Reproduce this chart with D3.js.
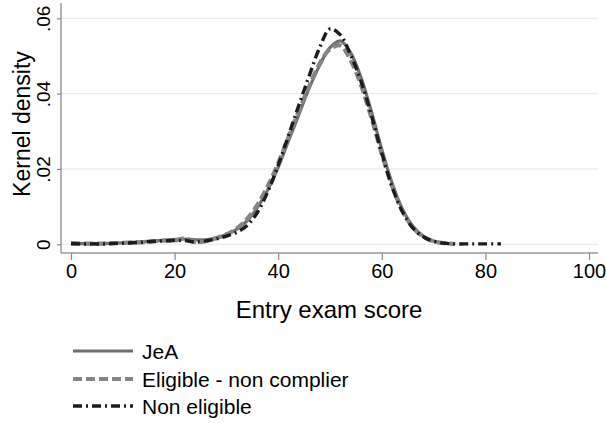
<!DOCTYPE html>
<html>
<head>
<meta charset="utf-8">
<script src="https://cdn.jsdelivr.net/npm/d3@7"></script>
<style>
  html, body { margin: 0; padding: 0; background: #fff; }
  svg { display: block; font-family: "Liberation Sans", Arial, Helvetica, sans-serif; }
</style>
</head>
<body>
<svg id="chart" width="606" height="423"></svg>
<script>
// Entry exam score grid (points) and kernel density estimates per group
const scoreJeA = [0,2,4,6,8,10,12,14,16,18,20,22,24,26,28,30,32,34,36,38,40,42,44,46,48,50,52,54,56,58,60,62,64,66,68,70,72,74];
const densityJeA = [.0003,.0002,.0002,.0002,.0003,.0004,.0005,.0007,.0009,.0011,.0013,.0014,.0012,.0012,.0017,.0026,.0040,.0062,.0098,.0145,.0205,.0275,.0345,.0415,.0475,.0522,.0540,.0508,.0442,.0352,.0252,.0162,.0093,.0048,.0022,.0009,.0003,.0001];

const scoreEligible = [0,2,4,6,8,10,12,14,16,18,20,22,24,26,28,30,32,34,36,38,40,42,44,46,48,50,52,54,56,58,60,62,64,66,68,70,72,74];
const densityEligible = [.0002,.0002,.0002,.0002,.0003,.0004,.0005,.0006,.0008,.0010,.0010,.0016,.0006,.0008,.0016,.0026,.0042,.0068,.0105,.0155,.0215,.0285,.0355,.0420,.0480,.0518,.0528,.0488,.0422,.0336,.0240,.0155,.0088,.0045,.0020,.0008,.0003,.0001];

const scoreNonEligible = [0,2,4,6,8,10,12,14,16,18,20,22,24,26,28,30,32,34,36,38,40,42,44,46,48,50,52,54,56,58,60,62,64,66,68,70,72,74,76,78,80,83];
const densityNonEligible = [.0002,.0001,.0001,.0001,.0002,.0003,.0004,.0006,.0008,.0009,.0010,.0010,.0006,.0009,.0014,.0022,.0032,.0050,.0085,.0140,.0210,.0290,.0370,.0448,.0522,.0572,.0556,.0502,.0432,.0342,.0242,.0152,.0086,.0043,.0020,.0008,.0003,.0001,.0001,.0001,.0001,.0001];

const seriesNames = ["JeA", "Eligible - non complier", "Non eligible"];

const xTicks = [0, 20, 40, 60, 80, 100];
const yTicks = [0, 0.02, 0.04, 0.06];
const yTickLabels = ["0", ".02", ".04", ".06"];

const xTitle = "Entry exam score";
const yTitle = "Kernel density";

// ---- layout ----
const plot = { left: 61, right: 598, top: 3, bottom: 253 };
const svg = d3.select("#chart");

const x = d3.scaleLinear().domain([0, 100]).range([71, 589]);
const y = d3.scaleLinear().domain([0, 0.06]).range([244.3, 18.3]);

// horizontal grid lines
svg.append("g")
  .selectAll("line")
  .data(yTicks)
  .join("line")
  .attr("x1", plot.left).attr("x2", plot.right)
  .attr("y1", d => y(d)).attr("y2", d => y(d))
  .attr("stroke", "#ebebeb").attr("stroke-width", 1.2);

// axis frame lines
svg.append("line")
  .attr("x1", plot.left).attr("x2", plot.left)
  .attr("y1", plot.top).attr("y2", plot.bottom)
  .attr("stroke", "#9a9a9a").attr("stroke-width", 1.5);
svg.append("line")
  .attr("x1", plot.left).attr("x2", plot.right)
  .attr("y1", plot.bottom).attr("y2", plot.bottom)
  .attr("stroke", "#9a9a9a").attr("stroke-width", 1.5);

// x axis
const xAxis = d3.axisBottom(x).tickValues(xTicks).tickSize(7).tickPadding(4).tickFormat(d3.format("d"));
const gx = svg.append("g").attr("transform", `translate(0,${plot.bottom})`).call(xAxis);
gx.select(".domain").remove();
gx.selectAll(".tick line").attr("stroke", "#8a8a8a").attr("stroke-width", 1.2);
gx.selectAll(".tick text").attr("font-size", 20).attr("fill", "#000")
  .attr("font-family", "Liberation Sans, Arial, sans-serif");

// y axis, labels rotated
const yAxis = d3.axisLeft(y).tickValues(yTicks).tickSize(4).tickPadding(7)
  .tickFormat((d, i) => yTickLabels[i]);
const gy = svg.append("g").attr("transform", `translate(${plot.left},0)`).call(yAxis);
gy.select(".domain").remove();
gy.selectAll(".tick line").attr("stroke", "#8a8a8a").attr("stroke-width", 1.2);
gy.selectAll(".tick text")
  .attr("font-size", 19).attr("fill", "#000")
  .attr("font-family", "Liberation Sans, Arial, sans-serif")
  .attr("x", 0).attr("dy", null)
  .attr("text-anchor", "middle")
  .attr("transform", "translate(-11,0) rotate(-90)");

// axis titles
svg.append("text")
  .attr("x", x(50) - 1).attr("y", 318)
  .attr("text-anchor", "middle")
  .attr("font-size", 24).attr("fill", "#000")
  .text(xTitle);
svg.append("text")
  .attr("transform", `translate(30,${(plot.top + plot.bottom) / 2 - 4}) rotate(-90)`)
  .attr("text-anchor", "middle")
  .attr("font-size", 23).attr("fill", "#000")
  .text(yTitle);

// density curves
const styles = [
  { color: "#6f6f6f", width: 3.2, dash: null },
  { color: "#858585", width: 4.2, dash: "9,4" },
  { color: "#1c1c1c", width: 3.4, dash: "9,4,2,4" }
];
const series = [
  { name: seriesNames[0], xs: scoreJeA, ys: densityJeA },
  { name: seriesNames[1], xs: scoreEligible, ys: densityEligible },
  { name: seriesNames[2], xs: scoreNonEligible, ys: densityNonEligible }
];

const line = d3.line()
  .x(d => x(d[0]))
  .y(d => y(d[1]))
  .curve(d3.curveCatmullRom.alpha(0.5));

svg.append("g")
  .selectAll("path")
  .data(series)
  .join("path")
  .attr("d", s => line(s.xs.map((v, i) => [v, s.ys[i]])))
  .attr("fill", "none")
  .attr("stroke", (s, i) => styles[i].color)
  .attr("stroke-width", (s, i) => styles[i].width)
  .attr("stroke-dasharray", (s, i) => styles[i].dash)
  .attr("stroke-linejoin", "round");

// legend
const legend = svg.append("g");
const rowY = [351, 379, 406];
series.forEach((s, i) => {
  legend.append("line")
    .attr("x1", 73).attr("x2", 133)
    .attr("y1", rowY[i]).attr("y2", rowY[i])
    .attr("stroke", styles[i].color)
    .attr("stroke-width", styles[i].width)
    .attr("stroke-dasharray", styles[i].dash);
  legend.append("text")
    .attr("x", 142).attr("y", rowY[i])
    .attr("dy", "0.36em")
    .attr("font-size", 21).attr("fill", "#000")
    .text(s.name);
});
</script>
</body>
</html>
